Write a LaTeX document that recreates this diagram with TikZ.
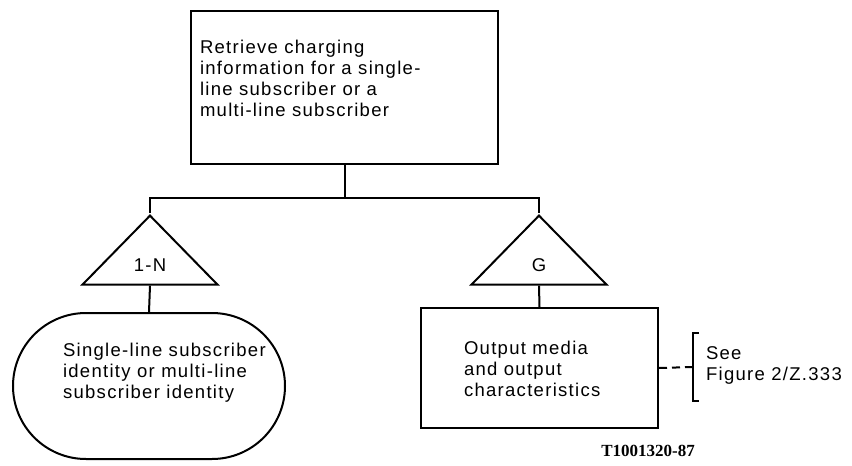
\documentclass[tikz,border=0pt]{standalone}
\usepackage{fontspec}
\setmainfont{Liberation Sans}[LetterSpace=7]
\newfontfamily\tagfont{Liberation Serif}
\usetikzlibrary{shapes.geometric,shapes.misc}
\tikzset{
  txt/.style={
    font=\fontsize{18.5}{21}\selectfont,
    inner sep=0pt,
    align=left,
    anchor=base west
  },
  procbox/.style={
    draw,
    rectangle,
    inner sep=0pt
  },
  termbox/.style={
    draw,
    rounded rectangle,
    inner sep=0pt,
    minimum width=272,
    minimum height=146
  },
  choice/.style={
    draw,
    isosceles triangle,
    isosceles triangle stretches,
    shape border rotate=90,
    minimum width=135,
    minimum height=69,
    inner sep=0pt
  }
}
\begin{document}
\begin{tikzpicture}[x=1pt, y=1pt, line width=2pt]
  \useasboundingbox (0,0) rectangle (852,-466);
  % boxes
  \node[procbox, minimum width=307, minimum height=153] (top) at (344.5,-87.5) {};
  \node[choice, anchor=apex] (tri1) at (150,-213) {};
  \node[choice, anchor=apex] (tri2) at (539,-213) {};
  \node[termbox, anchor=north] (ident) at (149,-312) {};
  \node[procbox, minimum width=237, minimum height=120, anchor=north] (media) at (539.5,-307) {};
  \coordinate (bus) at (344.5,-198);
  \coordinate (brk) at (693,-367);
  % texts (anchored at the last baseline)
  \node[txt] (toptext) at (199,-116) {Retrieve charging\\information for a single-\\line subscriber or a\\multi-line subscriber};
  \node[txt, anchor=base] (mult) at ([yshift=14]tri1.lower side) {1-N};
  \node[txt, anchor=base] (gen) at ([yshift=14]tri2.lower side) {G};
  \node[txt] (identtext) at (62,-398) {Single-line subscriber\\identity or multi-line\\subscriber identity};
  \node[txt] (mediatext) at (463,-396) {Output media\\and output\\characteristics};
  \node[txt] (see) at (705,-380) {See\\Figure 2/Z.333};
  \node[font=\tagfont\bfseries\fontsize{17}{20}\selectfont, inner sep=0pt] (tag) at (648,-451) {T1001320-87};
  % connectors
  \draw (top.south) -- (bus);
  \draw (tri1.apex) |- (bus) -| (tri2.apex);
  \draw (tri1.lower side) -- (ident.north);
  \draw (tri2.lower side) -- (media.north);
  \draw[dash pattern=on 8pt off 5pt] (media.east) -- (brk);
  \draw[line width=2.6pt] ([shift={(6,34)}]brk) -| ([yshift=-34]brk) -- ++(6,0);
\end{tikzpicture}
\end{document}
